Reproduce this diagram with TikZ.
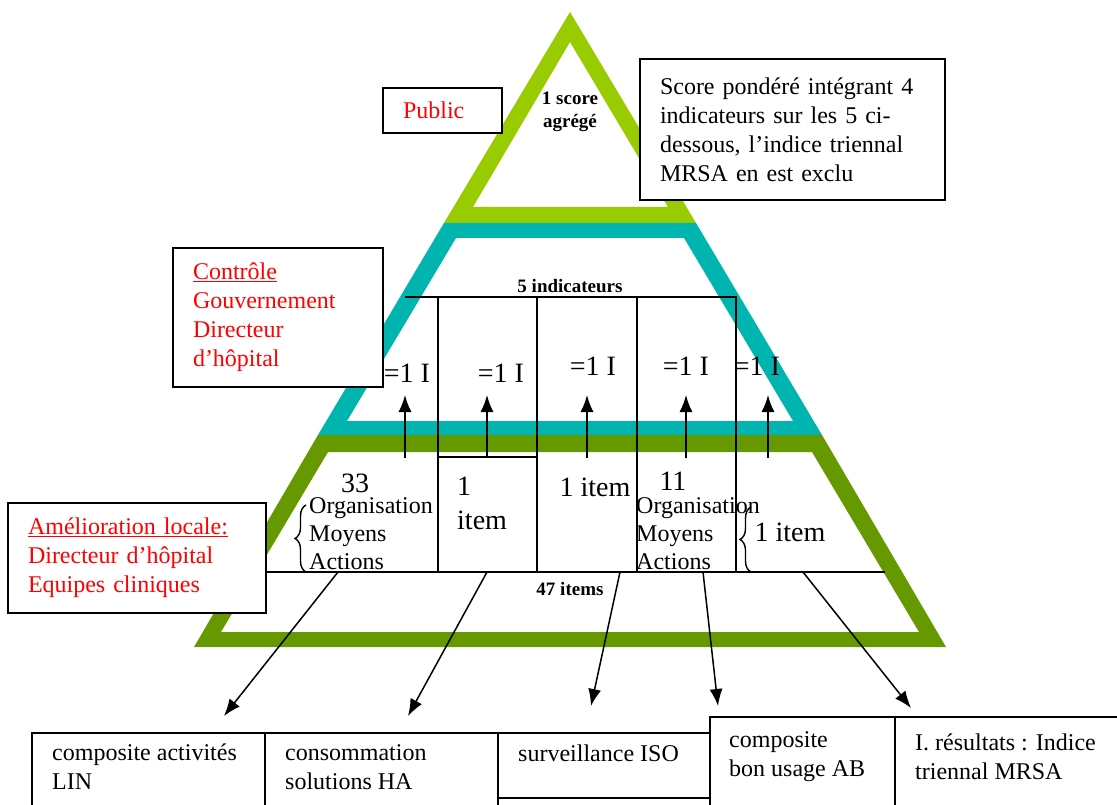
\documentclass[tikz,border=0pt]{standalone}
\usepackage{fontspec}
\setmainfont{Liberation Serif}
\usepackage{tikz}
\usetikzlibrary{arrows.meta,decorations.pathreplacing}
\definecolor{topgreen}{RGB}{153, 204, 0}
\definecolor{midteal}{RGB}{0, 181, 176}
\definecolor{basegreen}{RGB}{102, 153, 0}
\definecolor{labelred}{RGB}{255, 0, 0}

\tikzset{
  txt/.style={font=\fontsize{24}{28}\selectfont, inner sep=0pt, align=left},
  bigtxt/.style={font=\fontsize{28}{34}\selectfont, inner sep=0pt, align=left},
  boldtxt/.style={font=\fontsize{19}{23}\selectfont\bfseries, inner sep=0pt, align=center},
  box/.style={draw, line width=1.5pt, fill=white, font=\fontsize{24}{29}\selectfont, align=left, inner xsep=20pt, inner ysep=0pt},
  redbox/.style={box, text=labelred},
  celltxt/.style={font=\fontsize{24}{29}\selectfont, inner sep=0pt, align=left, anchor=west},
  gridline/.style={line width=1.5pt},
  arr/.style={-{Latex[length=17pt,width=13pt]}, line width=1.5pt},
  curly/.style={decorate, decoration={brace, amplitude=11pt}, line width=1.4pt}
}

\begin{document}
\begin{tikzpicture}[x=1pt, y=-1pt]
  \useasboundingbox (0,0) rectangle (1117,805);
  \clip (0,0) rectangle (1117,805);

  % Pyramid bands
  \fill[topgreen, even odd rule] (570,12) -- (444,223) -- (696,223) -- cycle
                                 (570,42) -- (473,207) -- (668,207) -- cycle;
  \fill[midteal, even odd rule] (444,223) -- (696,223) -- (822,435) -- (318,435) -- cycle
                                (456,238) -- (684,238) -- (793,421) -- (347,421) -- cycle;
  \fill[basegreen, even odd rule] (318,435) -- (822,435) -- (946,647) -- (194,647) -- cycle
                                  (328,452) -- (812,452) -- (919,632) -- (221,632) -- cycle;

  % Indicator frame and item line
  \draw[gridline] (405,297) -- (736,297) -- (736,572);
  \foreach \x in {438,537,637}
    \draw[gridline] (\x,297) -- (\x,572);
  \draw[gridline] (438,457) -- (537,457);
  \draw[gridline] (266,572) -- (885,572);

  % Up arrows
  \foreach \x [count=\i] in {405,487,587,686,768} {
    \coordinate (u\i) at (\x,458);
    \coordinate (t\i) at (\x,395);
    \draw[arr] (u\i) -- (t\i);
  }

  % Side boxes
  \node[redbox, text width=79pt, minimum height=45pt] (public) at (442.5,110.5) {Public};
  \node[box, text width=265pt, minimum height=141pt] (score) at (792.5,129.5)
    {Score pondéré intégrant 4\\indicateurs sur les 5 ci-\\dessous, l’indice triennal\\MRSA en est exclu};
  \node[redbox, text width=170pt, minimum height=139pt] (controle) at (278,317.5)
    {\underline{Contrôle}\\Gouvernement\\Directeur\\d’hôpital};
  \node[redbox, text width=218pt, minimum height=110pt] (amelioration) at (137,558)
    {\underline{Amélioration locale:}\\Directeur d’hôpital\\Equipes cliniques};

  % Level labels
  \node[boldtxt] (agrege) at (570,112) {1 score\\agrégé};
  \node[boldtxt] (indic) at (570,286) {5 indicateurs};
  \node[boldtxt] (items) at (570,589) {47 items};

  \node[bigtxt] (eq1) at (407,373) {=1 I};
  \node[bigtxt] (eq2) at (501,373) {=1 I};
  \node[bigtxt] (eq3) at (593,366) {=1 I};
  \node[bigtxt] (eq4) at (686,366) {=1 I};
  \node[bigtxt] (eq5) at (757,366) {=1 I};

  % Item counts
  \node[bigtxt] (n33) at (355,483) {33};
  \node[txt, anchor=west] (oma1) at (309,534) {Organisation\\Moyens\\Actions};
  \draw[curly] (306,572) -- (306,505);
  \node[bigtxt, anchor=west] (one2) at (457,503) {1\\item};
  \node[bigtxt] (one3) at (595,487) {1 item};
  \node[bigtxt] (n11) at (673,481) {11};
  \node[txt, anchor=west] (oma4) at (636,534) {Organisation\\Moyens\\Actions};
  \draw[curly] (751,572) -- (751,507);
  \node[bigtxt] (one5) at (790,532) {1 item};

  % Bottom table
  \draw[gridline, fill=white] (32,733) rectangle (265,830);
  \draw[gridline, fill=white] (265,733) rectangle (498,830);
  \draw[gridline, fill=white] (498,733) rectangle (710,830);
  \draw[gridline] (498,798) -- (710,798);
  \draw[gridline, fill=white] (710,717) rectangle (895,830);
  \draw[gridline, fill=white] (895,717) rectangle (1120,830);
  \node[celltxt] (lin) at (52,767) {composite activités\\LIN};
  \node[celltxt] (ha) at (285,767) {consommation\\solutions HA};
  \node[celltxt] (iso) at (518,753) {surveillance ISO};
  \node[celltxt] (ab) at (729,757) {composite\\bon usage AB};
  \node[celltxt] (mrsa) at (915,757) {I. résultats : Indice\\triennal MRSA};

  % Down arrows
  \coordinate (s1) at (338,572);  \coordinate (e1) at (224,716);
  \coordinate (s2) at (487,572);  \coordinate (e2) at (408,716);
  \coordinate (s3) at (620,572);  \coordinate (e3) at (591,706);
  \coordinate (s4) at (703,572);  \coordinate (e4) at (718,706);
  \coordinate (s5) at (803,572);  \coordinate (e5) at (911,708);
  \foreach \i in {1,...,5}
    \draw[arr] (s\i) -- (e\i);
\end{tikzpicture}
\end{document}
